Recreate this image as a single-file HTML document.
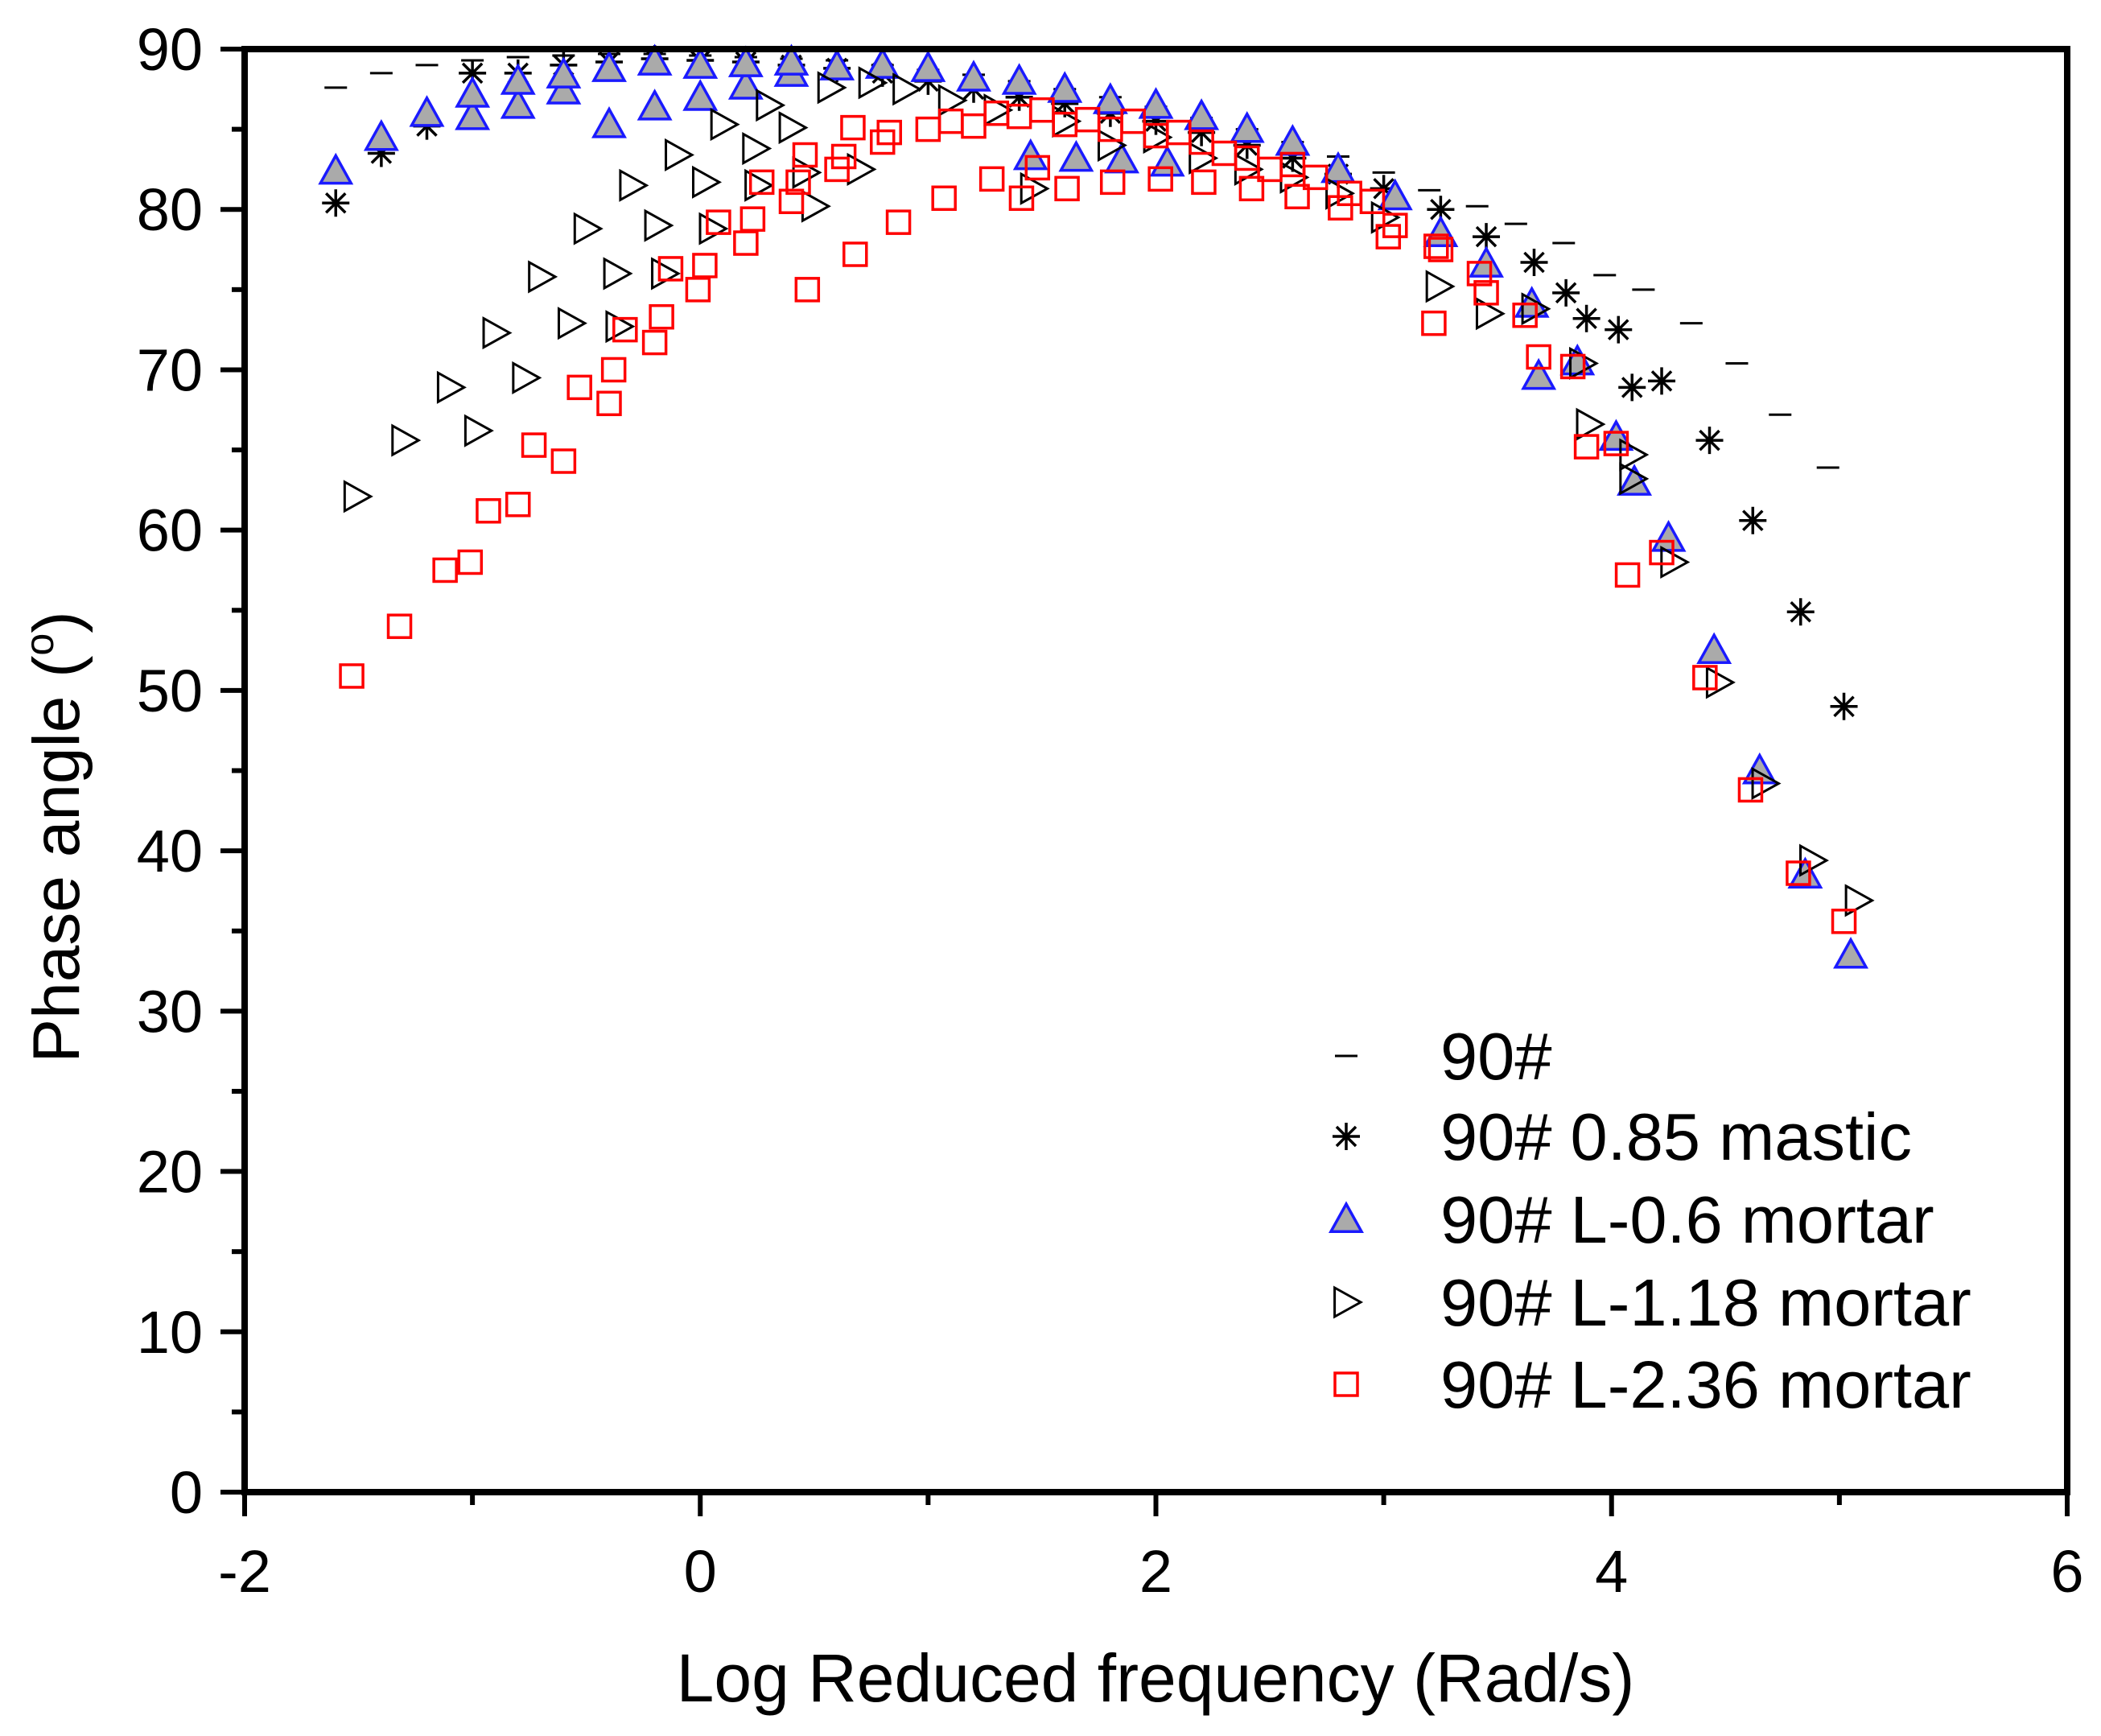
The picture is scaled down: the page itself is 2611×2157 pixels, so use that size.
<!DOCTYPE html>
<html><head><meta charset="utf-8"><style>
html,body{margin:0;padding:0;background:#fff}
svg{display:block}
text{font-family:"Liberation Sans",Arial,sans-serif;fill:#000}
</style></head><body>
<svg id="chart" width="2611" height="2157" viewBox="0 0 2611 2157" xmlns="http://www.w3.org/2000/svg">
<g id="grid"></g>
<g id="marks"></g>
<g id="axes"></g>
<g id="legend"></g>
</svg>
<script>
const xTicks=[-2,0,2,4,6];
const yTicks=[0,10,20,30,40,50,60,70,80,90];
const s90x=[-1.6,-1.4,-1.2,-1.0,-0.8,-0.6,-0.4,-0.2,0,0.2,0.4,0.6,0.8,1.0,1.2,1.4,1.6,1.8,2.0,2.2,2.4,2.6,2.8,3.0,3.2,3.41,3.58,3.79,3.97,4.14,4.35,4.55,4.74,4.95];
const s90y=[87.6,88.5,89,89.3,89.5,89.6,89.7,89.7,89.6,89.5,89.4,89.3,89,88.7,88.4,88,87.5,87,86.4,85.7,85,84.2,83.3,82.3,81.2,80.2,79.1,77.9,75.9,75.0,72.9,70.4,67.2,63.9];
const mastX=[-1.6,-1.4,-1.2,-1.0,-0.8,-0.6,-0.4,-0.2,0,0.2,0.4,0.6,0.8,1.0,1.2,1.4,1.6,1.8,2.0,2.2,2.4,2.6,2.8,3.0,3.25,3.45,3.66,3.8,3.89,4.03,4.09,4.22,4.43,4.62,4.83,5.02];
const mastY=[80.4,83.5,85.2,88.5,88.5,89,89.2,89.4,89.3,89.2,89,88.8,88.5,88,87.5,87,86.6,86,85.5,84.8,84,83.2,82.2,81.3,80.0,78.3,76.7,74.8,73.2,72.5,68.9,69.3,65.6,60.6,54.9,49.0];
const triX=[-1.6,-1.4,-1.2,-1,-1,-0.8,-0.8,-0.6,-0.6,-0.4,-0.4,-0.2,-0.2,0,0,0.2,0.2,0.4,0.4,0.6,0.8,1,1.2,1.4,1.45,1.6,1.65,1.8,1.85,2,2.05,2.2,2.4,2.6,2.8,3.05,3.25,3.45,3.65,3.68,3.85,4.02,4.1,4.25,4.45,4.65,4.85,5.05];
const triY=[82.4,84.5,86,85.8,87.2,86.5,88,87.4,88.4,85.3,88.8,86.4,89.2,87,89,87.7,89.1,88.5,89.2,88.9,89,88.8,88.2,88,83.3,87.5,83.2,86.8,83.1,86.5,82.9,85.8,85,84.2,82.5,80.8,78.5,76.6,74.1,69.6,70.5,65.8,63,59.5,52.5,45,38.5,33.5];
const rtX=[-1.51,-1.30,-1.10,-0.90,-0.98,-0.77,-0.70,-0.57,-0.50,-0.37,-0.30,-0.36,-0.19,-0.16,-0.10,0.02,0.05,0.10,0.24,0.25,0.30,0.40,0.46,0.50,0.57,0.70,0.75,0.9,1.1,1.3,1.46,1.6,1.8,2.0,2.2,2.4,2.6,2.8,3.0,3.24,3.46,3.66,3.87,3.90,4.09,4.09,4.27,4.47,4.67,4.88,5.08];
const rtY=[62.1,65.6,68.9,72.3,66.2,69.5,75.8,72.9,78.8,76.0,81.5,72.7,79.0,76.0,83.4,81.7,78.8,85.3,83.8,81.5,86.5,85.1,82.3,80.2,87.6,82.5,87.9,87.5,86.8,86.2,81.3,85.5,84,84.5,83.2,82.5,82,81,79.5,75.2,73.5,73.8,70.4,66.6,64.7,63.2,58.0,50.5,44.2,39.4,36.9];
const sqX=[-1.53,-1.32,-1.12,-1.01,-0.93,-0.80,-0.73,-0.60,-0.53,-0.40,-0.38,-0.33,-0.20,-0.17,-0.13,-0.01,0.02,0.08,0.20,0.23,0.27,0.40,0.43,0.46,0.47,0.60,0.63,0.67,0.68,0.80,0.83,0.87,1.0,1.07,1.1,1.2,1.28,1.3,1.4,1.41,1.48,1.5,1.6,1.61,1.7,1.8,1.81,1.9,2.0,2.02,2.1,2.2,2.21,2.3,2.4,2.42,2.5,2.6,2.62,2.7,2.81,2.85,2.95,3.02,3.05,3.22,3.23,3.25,3.42,3.45,3.62,3.68,3.83,3.89,4.02,4.07,4.22,4.41,4.61,4.82,5.02];
const sqY=[50.9,54.0,57.5,58.0,61.2,61.6,65.3,64.3,68.9,67.9,70.0,72.5,71.7,73.3,76.3,75.0,76.5,79.2,77.9,79.4,81.7,80.5,81.7,83.4,75.0,82.5,83.3,85.1,77.2,84.2,84.8,79.2,85.0,80.7,85.5,85.2,81.9,86,85.8,80.7,82.6,86.2,85.3,81.3,85.6,85,81.7,85.5,84.6,81.9,84.8,84.2,81.7,83.5,83.2,81.3,82.5,82.8,80.8,82,80.1,81,80.5,78.3,79,72.9,77.7,77.5,76.0,74.8,73.4,70.8,70.2,65.2,65.4,57.2,58.6,50.8,43.8,38.6,35.6];

const NS="http://www.w3.org/2000/svg";
const L=304,R=2569,T=61,B=1854;
const X=v=>L+(v+2)/8*(R-L);
const Y=v=>B-v/90*(B-T);
function mk(tag,attrs,parent){const e=document.createElementNS(NS,tag);for(const k in attrs)e.setAttribute(k,attrs[k]);parent.appendChild(e);return e;}
const marks=document.getElementById('marks'),axes=document.getElementById('axes'),leg=document.getElementById('legend');

function dash(g,x,y){return mk('line',{x1:x-14,y1:y,x2:x+14,y2:y,stroke:'#000','stroke-width':3},g);}
function star(g,x,y){const r=17;const p=[];for(let i=0;i<4;i++){const a=i*Math.PI/4;p.push(`M${x-r*Math.cos(a)},${y-r*Math.sin(a)}L${x+r*Math.cos(a)},${y+r*Math.sin(a)}`);}return mk('path',{d:p.join(''),stroke:'#000','stroke-width':3.5,fill:'none'},g);}
function tri(g,x,y){const r=19;return mk('polygon',{points:`${x},${y-r} ${x+r},${y+r*0.8} ${x-r},${y+r*0.8}`,fill:'#aaaaaa',stroke:'#1a1aff','stroke-width':3.5},g);}
function rtri(g,x,y){const r=18;return mk('polygon',{points:`${x-r*0.8},${y-r} ${x+r},${y} ${x-r*0.8},${y+r}`,fill:'none',stroke:'#000','stroke-width':3},g);}
function sq(g,x,y){const r=14;return mk('rect',{x:x-r,y:y-r,width:2*r,height:2*r,fill:'none',stroke:'#ff0000','stroke-width':3.5},g);}

const series=[
 {name:'series-90',xs:s90x,ys:s90y,f:dash,label:'90#'},
 {name:'series-mastic',xs:mastX,ys:mastY,f:star,label:'90# 0.85 mastic'},
 {name:'series-l06',xs:triX,ys:triY,f:tri,label:'90# L-0.6 mortar'},
 {name:'series-l118',xs:rtX,ys:rtY,f:rtri,label:'90# L-1.18 mortar'},
 {name:'series-l236',xs:sqX,ys:sqY,f:sq,label:'90# L-2.36 mortar'}];
series.forEach(s=>{
 const g=mk('g',{},marks);
 
 
 for(let i=0;i<s.xs.length;i++){
  const m=s.f(g,X(s.xs[i]),Y(s.ys[i]));
  
  
 }
});

const fr=mk('rect',{x:L,y:T,width:R-L,height:B-T,fill:'none',stroke:'#000','stroke-width':8},axes);


for(let v=-2;v<=6;v+=1){const major=v%2===0;const t=mk('line',{x1:X(v),y1:B,x2:X(v),y2:B+(major?30:16),stroke:'#000','stroke-width':6},axes);
 
 }
for(let v=0;v<=90;v+=5){const major=v%10===0;const t=mk('line',{x1:L,y1:Y(v),x2:L-(major?30:16),y2:Y(v),stroke:'#000','stroke-width':6},axes);
 
 }
xTicks.forEach(v=>{const t=mk('text',{x:X(v),y:1978,'font-size':74,'text-anchor':'middle'},axes);t.textContent=(v<0?'-'+(-v):v);
 
 });
yTicks.forEach(v=>{const t=mk('text',{x:252,y:Y(v)+26,'font-size':74,'text-anchor':'end'},axes);t.textContent=v;
 
 });
const xt=mk('text',{x:1436,y:2114,'font-size':84,'text-anchor':'middle'},axes);xt.textContent='Log Reduced frequency (Rad/s)';


const yt=mk('text',{x:0,y:0,'font-size':82,'text-anchor':'middle',transform:'translate(98,1040) rotate(-90)'},axes);
yt.innerHTML='Phase angle (<tspan font-size="50" dy="-32">o</tspan><tspan dy="32">)</tspan>';



const ly=[1312,1412,1515,1618,1720];
series.forEach((s,i)=>{
 const g=mk('g',{},leg);
 
 
 s.f(g,1673,ly[i]);
 const t=mk('text',{x:1790,y:ly[i]+29,'font-size':83},g);t.textContent=s.label;
});
</script>
</body></html>
